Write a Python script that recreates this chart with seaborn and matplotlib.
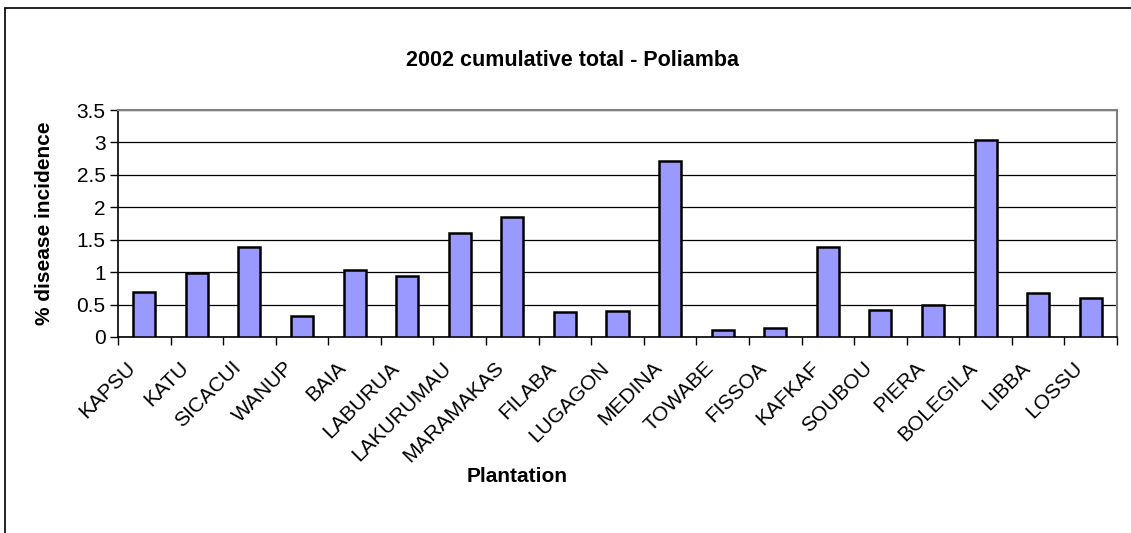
import numpy as np
import pandas as pd
import matplotlib
matplotlib.use("Agg")
import matplotlib.pyplot as plt
import matplotlib.transforms as mtransforms
from matplotlib.lines import Line2D
import seaborn as sns

plantations = ["KAPSU", "KATU", "SICACUI", "WANUP", "BAIA", "LABURUA", "LAKURUMAU",
               "MARAMAKAS", "FILABA", "LUGAGON", "MEDINA", "TOWABE", "FISSOA", "KAFKAF",
               "SOUBOU", "PIERA", "BOLEGILA", "LIBBA", "LOSSU"]
incidence = [0.70, 0.98, 1.38, 0.32, 1.04, 0.94, 1.60, 1.85, 0.39, 0.40, 2.72, 0.11,
             0.14, 1.39, 0.41, 0.50, 3.04, 0.68, 0.60]
y_ticks = [0, 0.5, 1, 1.5, 2, 2.5, 3, 3.5]
y_tick_labels = ["0", "0.5", "1", "1.5", "2", "2.5", "3", "3.5"]

sns.set_style("white")
plt.rcParams["font.family"] = ["Liberation Sans", "DejaVu Sans"]
plt.rcParams["text.color"] = "black"
plt.rcParams["xtick.color"] = "black"
plt.rcParams["ytick.color"] = "black"

W, H = 1131, 533
fig = plt.figure(figsize=(W / 100, H / 100), dpi=100)
ax = fig.add_axes([118 / W, 1 - 337 / H, (1117 - 118) / W, (337 - 110) / H])

df = pd.DataFrame({"Plantation": plantations, "Incidence": incidence})
sns.barplot(data=df, x="Plantation", y="Incidence", order=plantations,
            color="#9999FF", saturation=1, edgecolor="black", linewidth=1.8,
            width=0.42, ax=ax, zorder=3)

ax.set_xlim(-0.5, len(plantations) - 0.5)
ax.set_ylim(0, 3.5)
ax.set_yticks(y_ticks)
ax.set_yticklabels(y_tick_labels, fontsize=15)
ax.yaxis.grid(True, color="black", linewidth=0.9, zorder=0)
ax.set_axisbelow(True)

# category labels at bar centres, tick marks on category boundaries
ax.set_xticks(range(len(plantations)))
ax.set_xticklabels(plantations, rotation=45, ha="right", rotation_mode="anchor",
                   fontsize=15)
ax.tick_params(axis="x", which="major", length=0, pad=8)
ax.set_xticks(np.arange(-0.5, len(plantations), 1), minor=True)
ax.tick_params(axis="x", which="minor", length=6, width=1, color="black",
               direction="out", bottom=True)
ax.tick_params(axis="y", length=6, width=1, color="black", direction="out",
               left=True, pad=3)

# nudge rotated labels so they sit left of and below each bar centre
shift = mtransforms.ScaledTranslation(-18 / 100, -10 / 100, fig.dpi_scale_trans)
for lbl in ax.get_xticklabels():
    lbl.set_transform(lbl.get_transform() + shift)

for side in ["top", "right"]:
    ax.spines[side].set_color("#808080")
    ax.spines[side].set_linewidth(1.5)
for side in ["left", "bottom"]:
    ax.spines[side].set_color("black")
    ax.spines[side].set_linewidth(1.2)

ax.set_xlabel("")
ax.set_ylabel("")

fig.text(573 / W, 1 - 60 / H, "2002 cumulative total - Poliamba",
         ha="center", va="center", fontsize=15.5, fontweight="bold")
fig.text(45 / W, 1 - 223 / H, "% disease incidence", rotation=90,
         ha="center", va="center", fontsize=15, fontweight="bold")
fig.text(517 / W, 1 - 477 / H, "Plantation",
         ha="center", va="center", fontsize=15, fontweight="bold")

# outer chart frame (left and top edges)
fig.add_artist(Line2D([5 / W, 5 / W], [0, 1 - 8 / H], transform=fig.transFigure,
                      color="black", linewidth=1.2))
fig.add_artist(Line2D([5 / W, 1], [1 - 8 / H, 1 - 8 / H], transform=fig.transFigure,
                      color="black", linewidth=1.2))

fig.savefig("out.png", dpi=100, facecolor="white")
